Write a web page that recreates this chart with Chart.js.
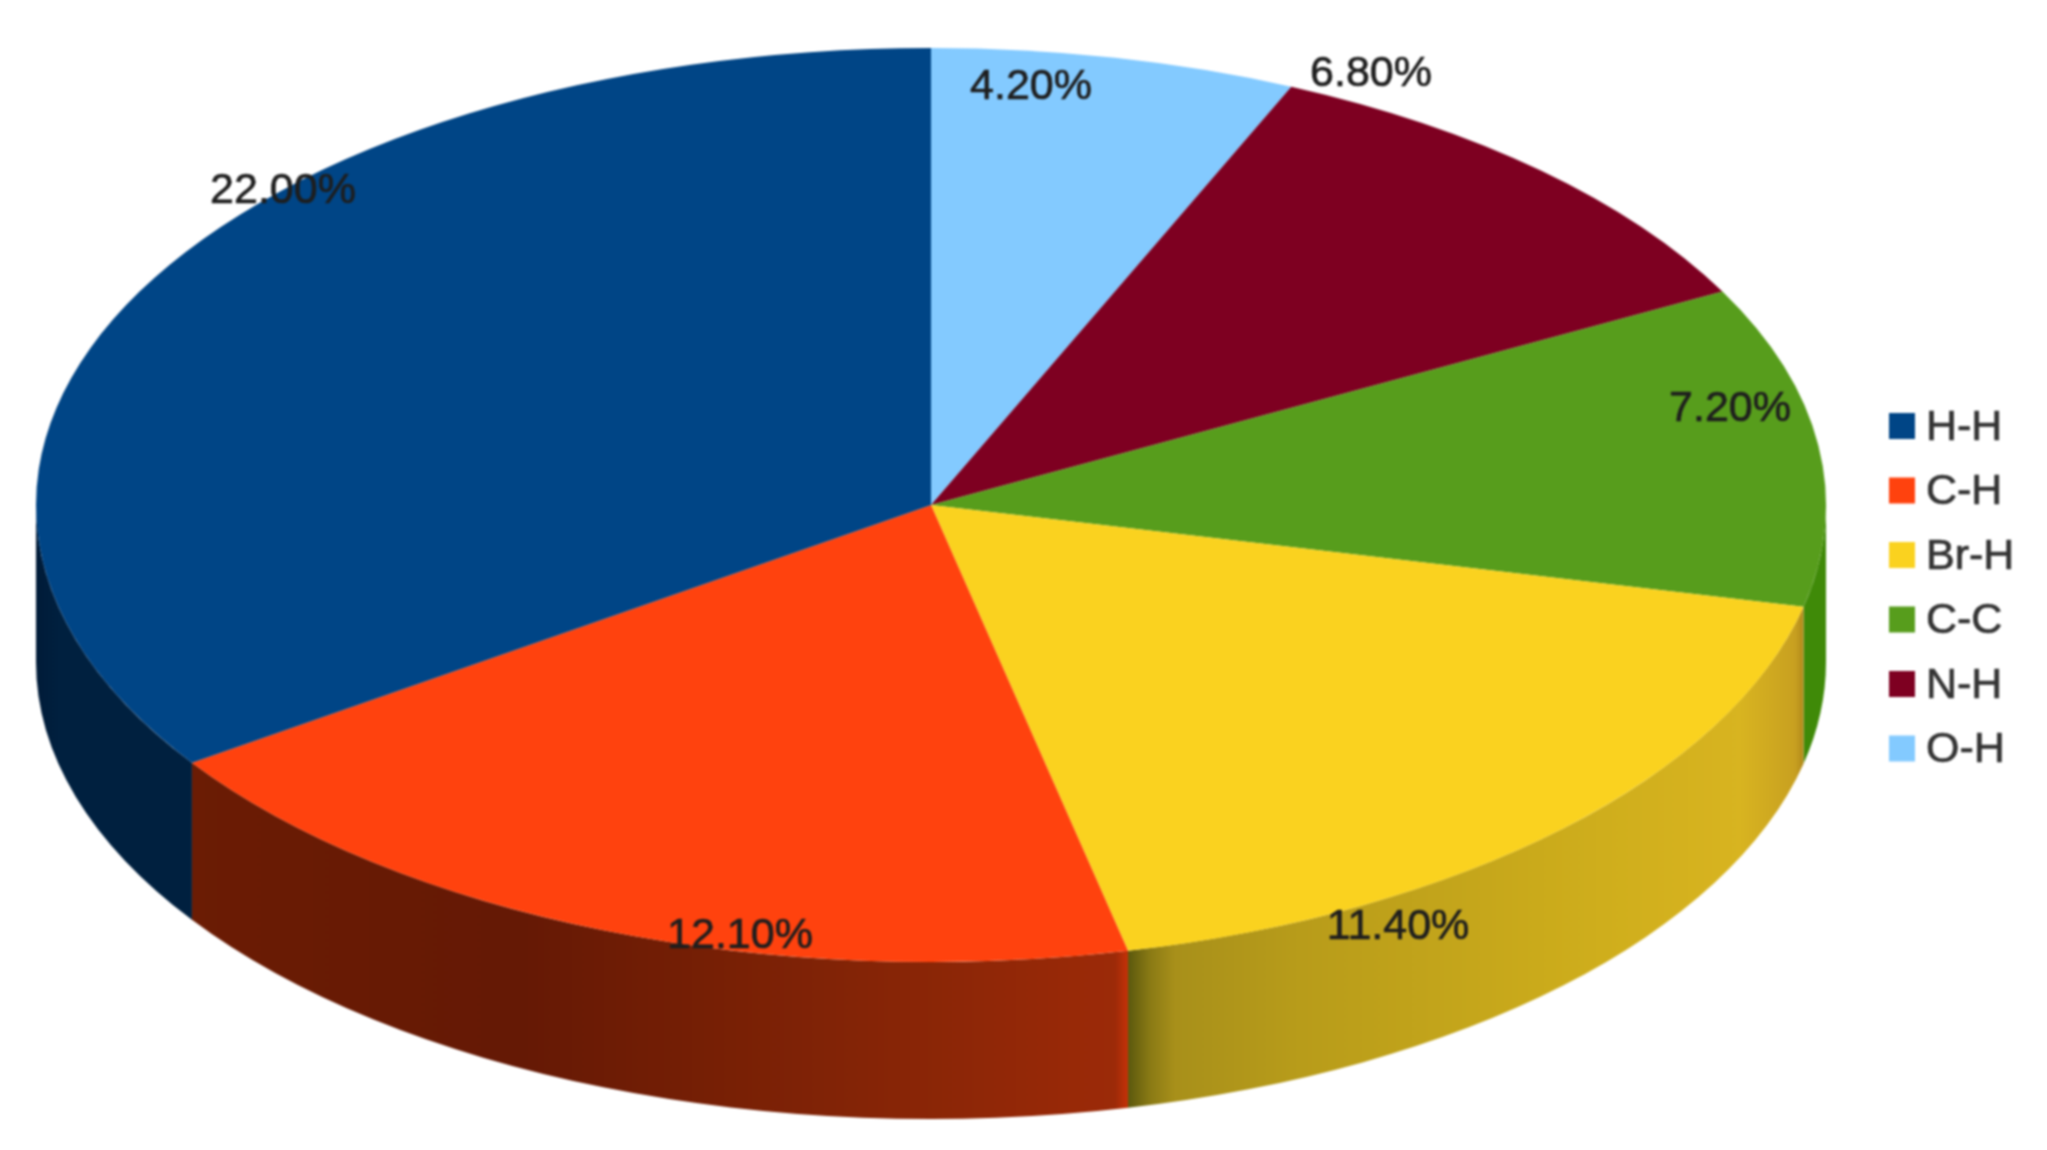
<!DOCTYPE html>
<html>
<head>
<meta charset="utf-8">
<script src="https://cdn.jsdelivr.net/npm/chart.js@4"></script>
<style>
html,body{margin:0;padding:0;background:#fff;overflow:hidden}
#wrap{position:absolute;left:0;top:0;width:2047px;height:1150px;background:#fff}
canvas{display:block;filter:blur(1.3px)}
</style>
</head>
<body>
<div id="wrap"><canvas id="c" width="2047" height="1150"></canvas></div>
<script>
const categories = ['H-H', 'C-H', 'Br-H', 'C-C', 'N-H', 'O-H'];
const values = [22.00, 12.10, 11.40, 7.20, 6.80, 4.20];
const colors = ['#004586', '#ff420e', '#fad21f', '#579d1c', '#7e0021', '#83caff'];

// Layout and styling
const CX = 931, CY = 505, RX = 895, RY = 457, DEPTH = 157;
const KY = RY / RX;
const FONT = '"Liberation Sans", Arial, sans-serif';
const wallStops = {
  'H-H': [[36, '#001b38'], [60, '#00203f'], [192, '#00203f']],
  'C-H': [[192, '#6b1c04'], [520, '#651905'], [850, '#832406'], [1115, '#9c2a08'], [1129, '#c83208']],
  'Br-H': [[1129, '#5d5a0e'], [1150, '#8a7a14'], [1175, '#a8901a'], [1300, '#b89c1a'], [1600, '#cfae1c'], [1740, '#d8b420'], [1795, '#c8a020'], [1807, '#a88018']],
  'C-C': [[1807, '#3f8a08'], [1825, '#3f8a08']],
  'N-H': [[1800, '#5a0018'], [1825, '#5a0018']],
  'O-H': [[1800, '#5d90b8'], [1825, '#5d90b8']]
};
const labelCentres = {
  'H-H': [283, 191], 'C-H': [740, 936], 'Br-H': [1398, 927],
  'C-C': [1730, 409], 'N-H': [1371, 74], 'O-H': [1031, 87]
};
const LEGEND = { boxX: 1889, boxSize: 26, textX: 1926, firstY: 426, step: 64.5, font: '43px ' + FONT, color: '#333333' };
const LABEL_FONT = '43px ' + FONT;

const reversed = a => a.slice().reverse();

const squashPlugin = {
  id: 'squash',
  beforeDatasetsDraw(chart) {
    const ctx = chart.ctx;
    const names = chart.data.labels;
    chart.getDatasetMeta(0).data.forEach((arc, i) => {
      const a0 = Math.max(arc.startAngle, 0);
      const a1 = Math.min(arc.endAngle, Math.PI);
      if (a1 <= a0) return;
      const g = ctx.createLinearGradient(CX - RX, 0, CX + RX, 0);
      wallStops[names[i]].forEach(([x, c]) => g.addColorStop(Math.min(1, Math.max(0, (x - (CX - RX)) / (2 * RX))), c));
      ctx.save();
      ctx.beginPath();
      ctx.ellipse(arc.x, arc.y + DEPTH, RX, RY, 0, a0, a1, false);
      ctx.ellipse(arc.x, arc.y, RX, RY, 0, a1, a0, true);
      ctx.closePath();
      ctx.fillStyle = g;
      ctx.fill();
      ctx.restore();
    });
  },
  beforeDatasetDraw(chart) {
    const ctx = chart.ctx;
    ctx.save();
    ctx.translate(0, CY);
    ctx.scale(1, KY);
    ctx.translate(0, -CY);
  },
  afterDatasetDraw(chart) {
    chart.ctx.restore();
  },
  afterDraw(chart) {
    const ctx = chart.ctx;
    ctx.save();
    // value labels
    ctx.font = LABEL_FONT;
    ctx.textAlign = 'center';
    ctx.textBaseline = 'middle';
    ctx.lineWidth = 0.7;
    categories.forEach((name, i) => {
      const [x, y] = labelCentres[name];
      ctx.fillStyle = '#1e1e1e';
      ctx.strokeStyle = '#1e1e1e';
      ctx.fillText(values[i].toFixed(2) + '%', x, y);
      ctx.strokeText(values[i].toFixed(2) + '%', x, y);
    });
    // legend
    ctx.font = LEGEND.font;
    ctx.textAlign = 'left';
    categories.forEach((name, i) => {
      const y = LEGEND.firstY + LEGEND.step * i;
      ctx.fillStyle = colors[i];
      ctx.fillRect(LEGEND.boxX, y - LEGEND.boxSize / 2, LEGEND.boxSize, LEGEND.boxSize);
      ctx.fillStyle = LEGEND.color;
      ctx.strokeStyle = LEGEND.color;
      ctx.fillText(name, LEGEND.textX, y + 2);
      ctx.strokeText(name, LEGEND.textX, y + 2);
    });
    ctx.restore();
  }
};

new Chart(document.getElementById('c'), {
  type: 'pie',
  data: {
    labels: reversed(categories),
    datasets: [{
      data: reversed(values),
      backgroundColor: reversed(colors),
      borderWidth: 0,
      radius: RX,
      clip: false
    }]
  },
  options: {
    responsive: false,
    animation: false,
    layout: { padding: { left: 0, top: 0, right: 2047 - 2 * CX, bottom: 1150 - 2 * CY } },
    plugins: { legend: { display: false }, tooltip: { enabled: false } }
  },
  plugins: [squashPlugin]
});
</script>
</body>
</html>
